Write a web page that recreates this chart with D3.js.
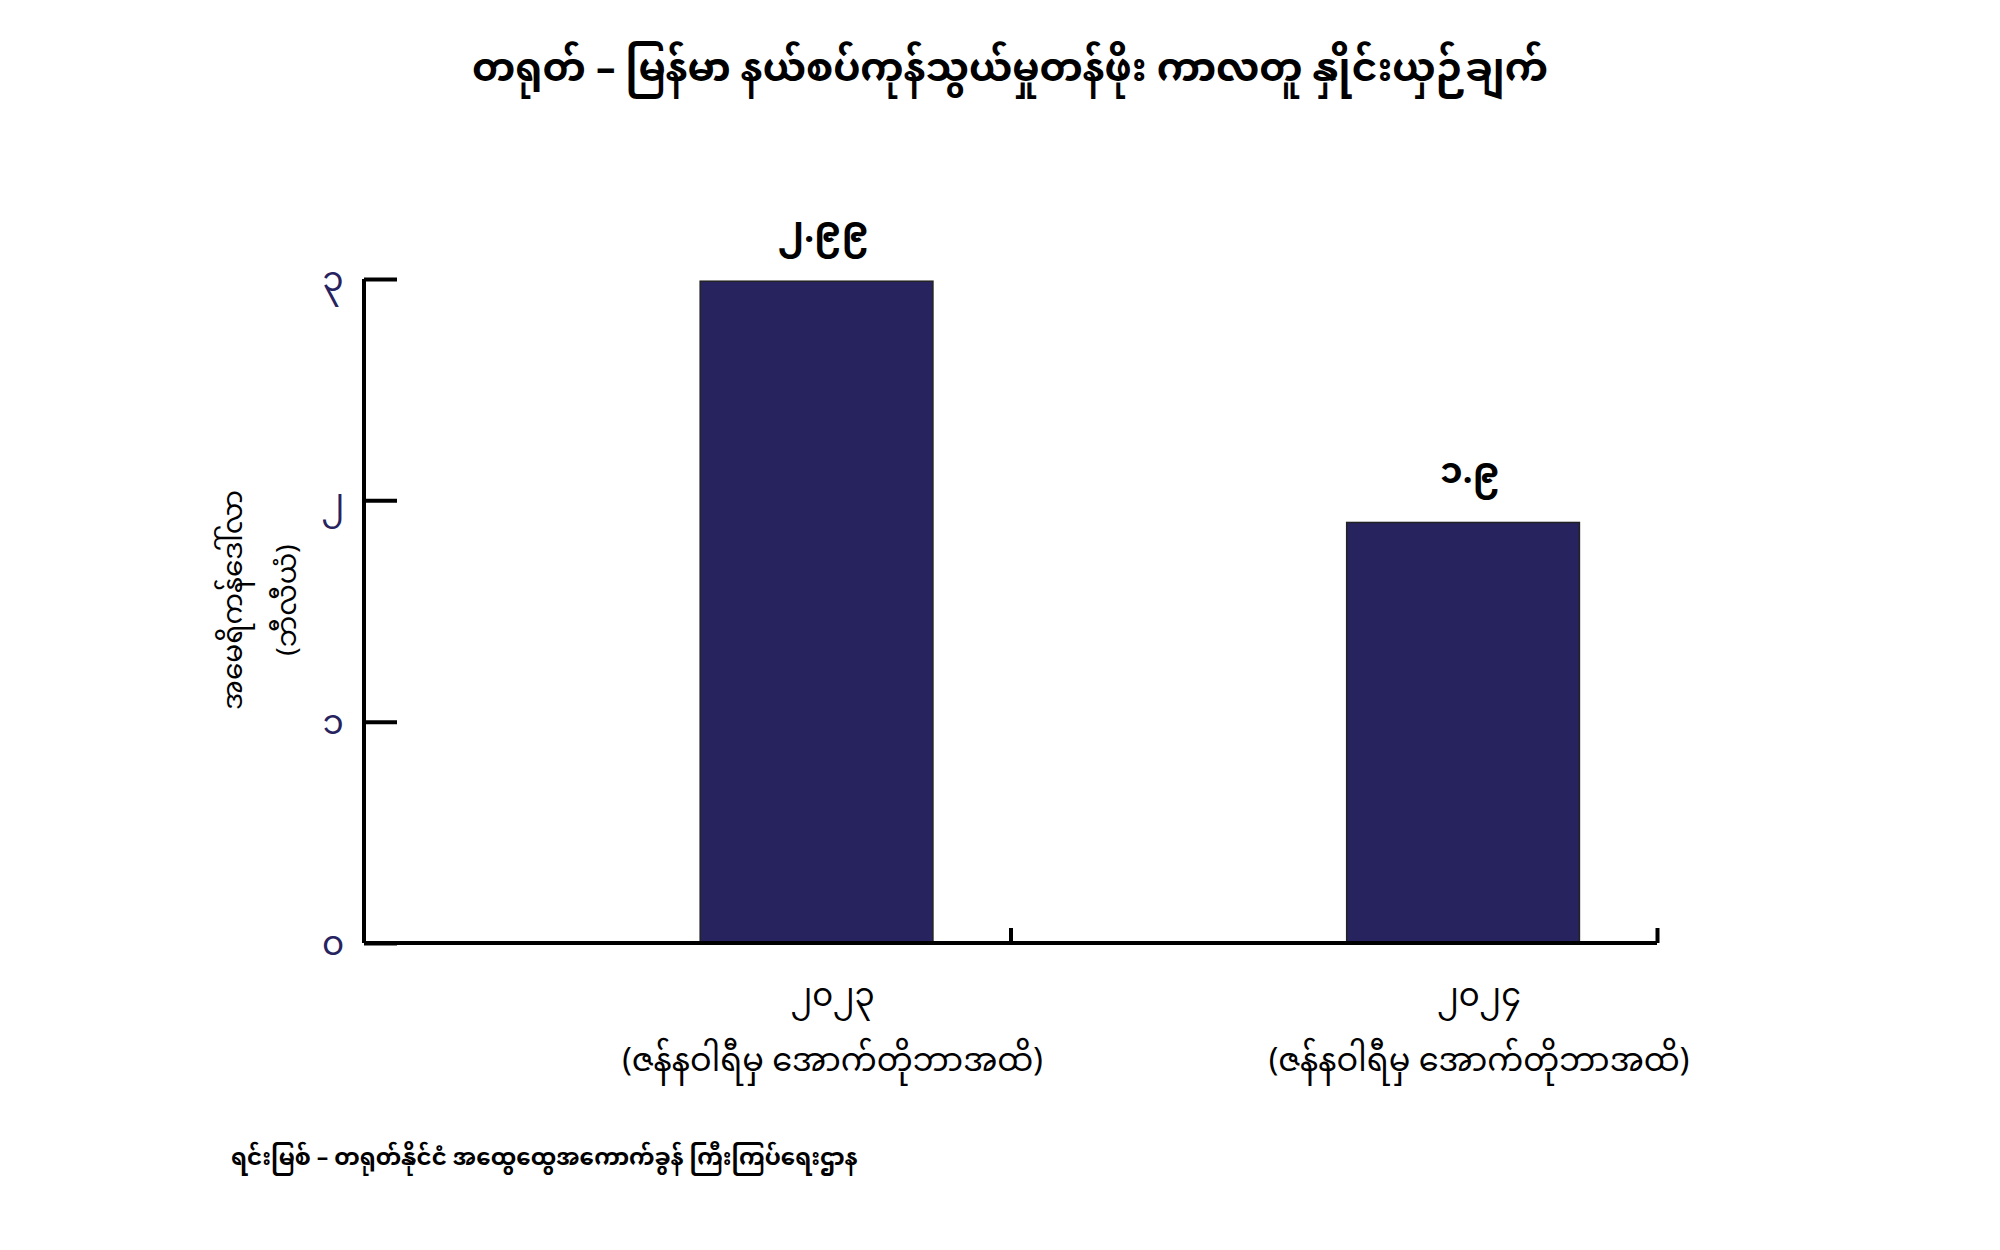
<!DOCTYPE html>
<html>
<head>
<meta charset="utf-8">
<script src="https://cdn.jsdelivr.net/npm/d3@7"></script>
<style>
  body { margin: 0; background: #fff; }
  svg text { font-family: "Noto Sans Myanmar", "Padauk", "Myanmar Text", "Noto Sans", sans-serif; }
</style>
</head>
<body>
<script>
// chart data
var years = ["၂၀၂၃", "၂၀၂၄"];
var periods = ["(ဇန်နဝါရီမှ အောက်တိုဘာအထိ)", "(ဇန်နဝါရီမှ အောက်တိုဘာအထိ)"];
var positions = [0.7, 1.7];
var values = [2.99, 1.9];
var valueLabels = ["၂.၉၉", "၁.၉"];
var yTicks = [0, 1, 2, 3];
var yTickLabels = ["၀", "၁", "၂", "၃"];
var xTicks = [1, 2];

var title = "တရုတ် – မြန်မာ နယ်စပ်ကုန်သွယ်မှုတန်ဖိုး ကာလတူ နှိုင်းယှဉ်ချက်";
var yTitle = ["အမေရိကန်ဒေါ်လာ", "(ဘီလီယံ)"];
var source = "ရင်းမြစ် – တရုတ်နိုင်ငံ အထွေထွေအကောက်ခွန် ကြီးကြပ်ရေးဌာန";

var width = 2000, height = 1250;
var navy = "#27235f";

var svg = d3.select("body").append("svg")
   .attr("width", width)
   .attr("height", height);

// scales
var x = d3.scaleLinear().domain([0, 2]).range([364, 1657]);
var y = d3.scaleLinear().domain([0, 3]).range([943, 279]);
var barWidth = x(0.36) - x(0);

// bars
svg.selectAll(".bar")
   .data(values)
   .enter().append("rect")
   .attr("class", "bar")
   .attr("x", function(d, i) { return x(positions[i]) - barWidth / 2; })
   .attr("y", function(d) { return y(d); })
   .attr("width", barWidth)
   .attr("height", function(d) { return y(0) - y(d); })
   .attr("fill", navy)
   .attr("stroke", "#222")
   .attr("stroke-width", 1.5);

// value labels
svg.selectAll(".val")
   .data(values)
   .enter().append("text")
   .attr("class", "val")
   .attr("x", function(d, i) { return x(positions[i]) + 7; })
   .attr("y", function(d) { return y(d) - 48; })
   .attr("text-anchor", "middle")
   .attr("dominant-baseline", "central")
   .attr("font-size", 36)
   .attr("font-weight", "bold")
   .text(function(d, i) { return valueLabels[i]; });

// y axis
var yAxis = svg.append("g")
   .attr("transform", "translate(" + x(0) + ",0)")
   .call(d3.axisRight(y).tickValues(yTicks).tickSize(33)
      .tickFormat(function(d, i) { return yTickLabels[i]; }));
yAxis.select(".domain").attr("stroke", "#000").attr("stroke-width", 4)
   .attr("d", "M0," + y(3) + "V" + y(0));
yAxis.selectAll(".tick line").attr("stroke", "#000").attr("stroke-width", 4);
yAxis.selectAll(".tick text")
   .attr("x", -31)
   .attr("dy", "0.35em")
   .attr("text-anchor", "middle")
   .attr("fill", navy)
   .attr("font-size", 34);

// x axis
var xAxis = svg.append("g")
   .attr("transform", "translate(0," + y(0) + ")")
   .call(d3.axisTop(x).tickValues(xTicks).tickSize(15).tickFormat(""));
xAxis.select(".domain").attr("stroke", "#000").attr("stroke-width", 4)
   .attr("d", "M" + x(0) + ",0H" + x(2));
xAxis.selectAll(".tick line").attr("stroke", "#000").attr("stroke-width", 4);

// category labels
var cats = svg.selectAll(".cat")
   .data(years)
   .enter().append("g")
   .attr("class", "cat")
   .attr("transform", function(d, i) { return "translate(" + (x(positions[i]) + 16) + ",0)"; });
cats.append("text")
   .attr("y", 999)
   .attr("text-anchor", "middle")
   .attr("dominant-baseline", "central")
   .attr("font-size", 32)
   .text(function(d) { return d; });
cats.append("text")
   .attr("y", 1064)
   .attr("text-anchor", "middle")
   .attr("dominant-baseline", "central")
   .attr("font-size", 32)
   .text(function(d, i) { return periods[i]; });

// y title
var yt = svg.append("text")
   .attr("transform", "translate(262,600) rotate(-90)")
   .attr("text-anchor", "middle")
   .attr("font-size", 28);
yt.selectAll("tspan")
   .data(yTitle)
   .enter().append("tspan")
   .attr("x", 0)
   .attr("y", function(d, i) { return i * 54 - 20; })
   .text(function(d) { return d; });

// title
svg.append("text")
   .attr("x", 1010)
   .attr("y", 72)
   .attr("text-anchor", "middle")
   .attr("dominant-baseline", "central")
   .attr("font-size", 39)
   .attr("font-weight", "bold")
   .text(title);

// source
svg.append("text")
   .attr("x", 231)
   .attr("y", 1160)
   .attr("dominant-baseline", "central")
   .attr("font-size", 23)
   .attr("font-weight", "bold")
   .text(source);
</script>
</body>
</html>
